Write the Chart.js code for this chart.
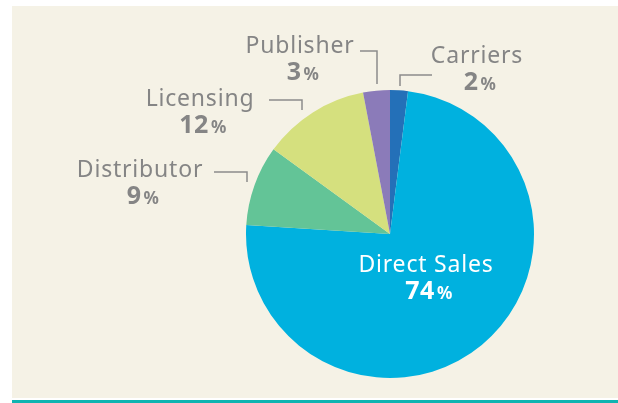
<!DOCTYPE html>
<html>
<head>
<meta charset="utf-8">
<script src="https://cdn.jsdelivr.net/npm/chart.js@4"></script>
<style>
  html, body { margin: 0; padding: 0; background: #ffffff; }
  #wrap { width: 618px; height: 403px; position: relative; }
</style>
</head>
<body>
<div id="wrap"><canvas id="pieChart"></canvas></div>
<script>
// Revenue split by channel, clockwise from 12 o'clock
const channels = ['Carriers', 'Direct Sales', 'Distributor', 'Licensing', 'Publisher'];
const shares = [2, 74, 9, 12, 3];
const sliceColors = ['#2470b8', '#00b1df', '#63c497', '#d5e07e', '#8b7bb9'];

// where each label sits (centre x, baseline of name), plus its leader line
const labelLayout = [
  { x: 477, y: 63, color: '#858585', line: [[432, 75], [400, 75], [400, 86]] },
  { x: 426, y: 272, color: '#ffffff', line: null },
  { x: 140, y: 177, color: '#858585', line: [[214, 172], [247, 172], [247, 182]] },
  { x: 200, y: 106, color: '#858585', line: [[269, 100], [302, 100], [302, 110]] },
  { x: 300, y: 53, color: '#858585', line: [[360, 51], [377, 51], [377, 84]] }
];

const FONT = '"Noto Sans", sans-serif';

const panelPlugin = {
  id: 'panel',
  beforeDraw(chart) {
    const c = chart.ctx;
    c.save();
    c.fillStyle = '#ffffff';
    c.fillRect(0, 0, chart.width, chart.height);
    c.fillStyle = '#f5f2e6';
    c.fillRect(12, 6, chart.width - 12, 392);
    c.fillStyle = '#0fb4b1';
    c.fillRect(12, 400, chart.width - 12, 3);
    c.restore();
  }
};

const labelPlugin = {
  id: 'sliceLabels',
  afterDraw(chart) {
    const c = chart.ctx;
    c.save();
    labelLayout.forEach((lab, i) => {
      if (lab.line) {
        c.strokeStyle = '#8c8c8c';
        c.lineWidth = 1.5;
        c.beginPath();
        c.moveTo(lab.line[0][0], lab.line[0][1]);
        for (let k = 1; k < lab.line.length; k++) c.lineTo(lab.line[k][0], lab.line[k][1]);
        c.stroke();
      }
      c.fillStyle = lab.color;
      c.textBaseline = 'alphabetic';
      c.textAlign = 'center';
      c.letterSpacing = '0.8px';
      c.font = '400 23px ' + FONT;
      c.fillText(channels[i], lab.x, lab.y);

      // value line: bold number + smaller % sign
      c.letterSpacing = '0.5px';
      const num = String(shares[i]);
      c.font = '700 25px ' + FONT;
      const wNum = c.measureText(num).width;
      c.font = '700 17px ' + FONT;
      const wPct = c.measureText('%').width;
      const startX = lab.x - (wNum + 2 + wPct) / 2 + 3;
      c.textAlign = 'left';
      c.font = '700 25px ' + FONT;
      c.fillText(num, startX, lab.y + 27);
      c.font = '700 17px ' + FONT;
      c.fillText('%', startX + wNum + 2, lab.y + 27);
    });
    c.restore();
  }
};

new Chart(document.getElementById('pieChart'), {
  type: 'pie',
  data: {
    labels: channels,
    datasets: [{
      data: shares,
      backgroundColor: sliceColors,
      borderWidth: 0
    }]
  },
  options: {
    responsive: true,
    maintainAspectRatio: false,
    animation: false,
    layout: { padding: { left: 246, right: 84, top: 90, bottom: 25 } },
    plugins: {
      legend: { display: false },
      tooltip: { enabled: false }
    }
  },
  plugins: [panelPlugin, labelPlugin]
});
</script>
</body>
</html>
